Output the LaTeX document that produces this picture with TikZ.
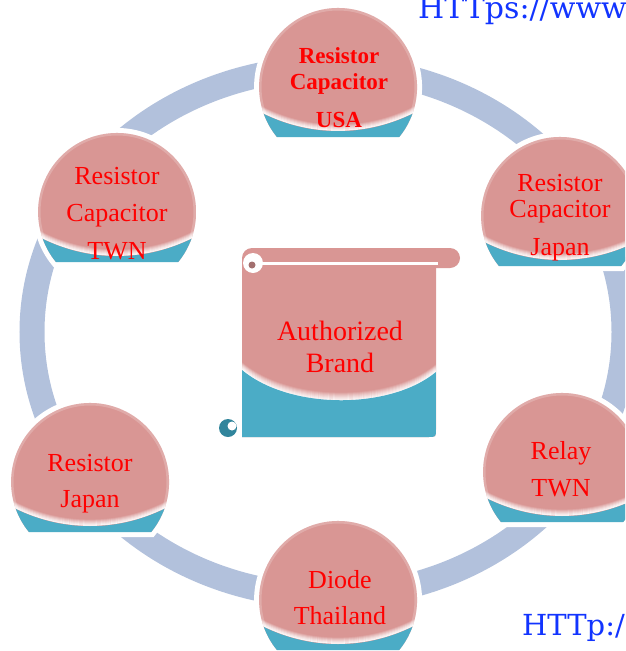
\documentclass[tikz,border=0pt]{standalone}
\usepackage{fontspec}
\setmainfont{Liberation Serif}
\newfontfamily\linkfont{DejaVu Serif}
\usepackage{tikz}
\usetikzlibrary{calc}

\definecolor{ringblue}{RGB}{178,193,220}
\definecolor{ballpink}{RGB}{217,150,148}
\definecolor{bandblue}{RGB}{75,172,198}
\definecolor{curlblue}{RGB}{49,133,156}
\definecolor{linkblue}{RGB}{18,52,255}

\begin{document}
\begin{tikzpicture}[x=1pt,y=-1pt,
    balltext/.style={text=red,align=center,inner sep=0pt,font=\fontsize{26}{26}\selectfont},
    linktext/.style={text=linkblue,anchor=base west,inner sep=0pt}]
  \useasboundingbox (0,0) rectangle (625,651);
  \clip (0,0) rectangle (625,651);
  \draw[ringblue,line width=25pt] (328,332) ellipse (296pt and 264pt);  % ring behind the balls
  \foreach \cx/\cy in {338/87,117/212,560/216,90/482,338/600,562/472}{
    \begin{scope}[shift={(\cx,\cy)}]
      \draw[white,line width=10pt] (61.2,50) arc[start angle=-39.3,end angle=219.3,radius=79pt] -- cycle;
      \begin{scope}
        \clip (61.2,50) arc[start angle=-39.3,end angle=219.3,radius=79pt] -- cycle;
        \fill[ballpink] (-80,-80) rectangle (80,50);
        \draw[white,opacity=.2,line width=5pt] (0,0) circle (79pt);  % light rim
        \foreach \k [evaluate=\k as \op using \k/7] in {0,...,6}
          \draw[white,opacity=\op,line width=1.3pt] (-80,17+\k) .. controls (-30,44+\k) and (30,44+\k) .. (80,17+\k);
        \fill[bandblue] (-80,24) .. controls (-30,51) and (30,51) .. (80,24) -- (80,60) -- (-80,60) -- cycle;  % blue foot
      \end{scope}
    \end{scope}
  }
  % scroll in the middle
  \fill[ballpink,rounded corners=10pt] (242,248) rectangle (460,268);
  \fill[ballpink] (242,258) -- (436,258) -- (436,429) .. controls (436,437) .. (428,437) -- (242,437) -- cycle;
  \begin{scope}
    \clip (242,258) -- (436,258) -- (436,429) .. controls (436,437) .. (428,437) -- (242,437) -- cycle;
    \foreach \k [evaluate=\k as \op using \k/9] in {0,...,8}
      \draw[white,opacity=\op,line width=1.3pt] (242,362+\k) .. controls (290,402+\k) and (390,402+\k) .. (436,364+\k);
    \fill[bandblue] (242,370) .. controls (290,410) and (390,410) .. (436,372) -- (436,440) -- (242,440) -- cycle;
  \end{scope}
  \draw[white,line width=3.5pt] (254,263.5) -- (438,263.5);
  \fill[white] (253,263) circle (10pt);
  \fill[ballpink!75!black] (252,265) circle (3.5pt);
  \fill[curlblue] (228,428) circle (9pt);
  \fill[white] (232,426) circle (4.5pt);
  % texts
  \node[balltext,font=\bfseries\fontsize{23}{26}\selectfont] (usa) at (339,87.4) {Resistor\\Capacitor\\[12pt]USA};
  \node[balltext] (rctwn) at (117,214) {Resistor\\[11pt]Capacitor\\[12pt]TWN};
  \node[balltext] (rcjapan) at (560,217.7) {Resistor\\Capacitor\\[12pt]Japan};
  \node[balltext] (resjapan) at (90,483.2) {Resistor\\[10pt]Japan};
  \node[balltext] (diode) at (340,598) {Diode\\[10pt]Thailand};
  \node[balltext] (relay) at (561,469.6) {Relay\\[11pt]TWN};
  \node[balltext,font=\fontsize{28}{32}\selectfont] (brand) at (340,346.5) {Authorized\\Brand};
  \node[linktext,font=\linkfont\fontsize{30}{30}\selectfont] (linktop) at (418,18) {HTTps://www};
  \node[linktext,font=\linkfont\fontsize{29}{29}\selectfont] (linkbot) at (522,635) {HTTp:/};
\end{tikzpicture}
\end{document}
